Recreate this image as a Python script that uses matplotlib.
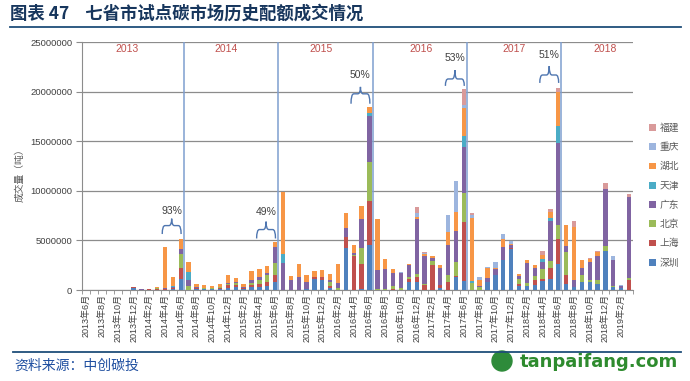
import matplotlib
matplotlib.use("Agg")
import matplotlib.pyplot as plt
import numpy as np
from matplotlib.path import Path
from matplotlib.patches import PathPatch, Circle
from matplotlib.lines import Line2D

plt.rcParams['font.family'] = ['Liberation Sans', 'Noto Sans CJK SC', 'DejaVu Sans']

# monthly volumes, unit: 10k tons, 2013-06 .. 2019-03
sz = [2, 2, 3, 5, 2, 3, 25, 3, 3, 5,
      3, 10, 107, 5, 10, 10, 10, 15, 25, 30,
      10, 30, 30, 40, 83, 0, 5, 5, 15, 110,
      100, 25, 5, 423, 5, 10, 450, 5, 5, 5,
      5, 80, 83, 5, 5, 20, 0, 133, 93, 0,
      0, 80, 150, 307, 410, 40, 40, 50, 90, 107,
      260, 60, 30, 83, 80, 60, 390, 30, 20, 0]
sh = [0, 0, 0, 0, 0, 1, 2, 1, 3, 10,
      10, 10, 117, 0, 10, 5, 5, 10, 30, 20,
      10, 20, 30, 43, 73, 0, 0, 0, 0, 20,
      33, 20, 0, 110, 335, 250, 450, 0, 0, 5,
      0, 30, 50, 50, 250, 30, 83, 5, 590, 0,
      0, 0, 0, 0, 10, 20, 0, 50, 20, 113,
      250, 90, 0, 0, 0, 0, 0, 0, 0, 100]
bj = [0, 0, 0, 0, 0, 1, 2, 1, 2, 2,
      2, 5, 137, 40, 2, 2, 2, 5, 5, 25,
      5, 20, 40, 73, 120, 0, 0, 0, 0, 5,
      0, 40, 15, 0, 15, 160, 394, 10, 10, 30,
      20, 20, 33, 5, 33, 0, 67, 143, 300, 73,
      30, 0, 0, 0, 0, 50, 30, 40, 100, 70,
      147, 233, 0, 67, 20, 40, 50, 10, 0, 23]
gd = [0, 0, 0, 0, 0, 0, 2, 2, 3, 5,
      2, 10, 50, 60, 10, 5, 3, 5, 15, 5,
      5, 30, 30, 20, 153, 277, 95, 128, 65, 0,
      0, 20, 50, 90, 20, 300, 460, 190, 200, 130,
      145, 120, 550, 285, 33, 170, 307, 313, 460, 0,
      10, 40, 57, 127, 30, 30, 200, 80, 70, 403,
      827, 57, 70, 77, 180, 240, 583, 260, 20, 820]
tj = [0, 0, 0, 0, 0, 0, 2, 0, 2, 2,
      0, 2, 0, 80, 0, 0, 0, 0, 0, 0,
      0, 0, 0, 0, 0, 90, 0, 0, 0, 0,
      0, 0, 0, 0, 0, 0, 33, 0, 0, 0,
      0, 0, 0, 0, 0, 0, 0, 0, 107, 20,
      0, 0, 0, 0, 0, 0, 0, 0, 30, 33,
      167, 0, 0, 0, 0, 0, 0, 0, 0, 0]
hb = [0, 0, 0, 0, 0, 0, 0, 0, 0, 2,
      420, 95, 100, 95, 25, 30, 20, 30, 78, 45,
      30, 90, 80, 63, 60, 623, 40, 133, 70, 60,
      67, 60, 190, 150, 80, 130, 60, 510, 95, 40,
      5, 10, 17, 20, 20, 30, 127, 193, 290, 633,
      60, 100, 20, 83, 10, 20, 30, 37, 40, 57,
      343, 220, 533, 80, 33, 40, 0, 0, 0, 0]
cq = [0, 0, 0, 0, 0, 0, 0, 0, 0, 0,
      0, 0, 0, 0, 0, 0, 0, 0, 0, 0,
      0, 0, 0, 0, 0, 0, 0, 0, 0, 0,
      0, 0, 0, 0, 0, 0, 0, 0, 0, 0,
      5, 0, 40, 10, 0, 0, 173, 310, 27, 30,
      30, 10, 60, 50, 33, 0, 0, 0, 0, 0,
      0, 0, 0, 0, 0, 0, 0, 43, 7, 0]
fj = [0, 0, 0, 0, 0, 0, 0, 0, 0, 0,
      0, 0, 0, 0, 0, 0, 0, 0, 0, 0,
      0, 0, 0, 0, 0, 0, 0, 0, 0, 0,
      0, 0, 0, 0, 0, 0, 0, 0, 0, 0,
      0, 0, 60, 10, 0, 0, 0, 0, 160, 23,
      0, 0, 0, 0, 0, 0, 0, 0, 40, 33,
      47, 0, 67, 0, 10, 13, 60, 0, 0, 30]

names = ['深圳', '上海', '北京', '广东', '天津', '湖北', '重庆', '福建']
colors = ['#4F81BD', '#C0504D', '#9BBB59', '#8064A2', '#4BACC6', '#F79646', '#9DB5DE', '#D99A9A']
series = [sz, sh, bj, gd, tj, hb, cq, fj]

months = [f"{2013 + (5 + i) // 12}年{(5 + i) % 12 + 1}月" for i in range(len(sz))]

years = ['2013', '2014', '2015', '2016', '2017', '2018']
year_x = [5.2, 17.8, 29.9, 42.5, 54.4, 66.0]
year_lines = [12.4, 24.4, 36.4, 48.4, 60.4]

# share labels above the june peaks
shares = ['93%', '49%', '50%', '53%', '51%']
share_idx = [12, 24, 36, 48, 60]
brace_y = [(5.65e6, 6.5e6, 7.2e6, 8.0e6),
           (5.2e6, 6.1e6, 6.9e6, 7.9e6),
           (18.8e6, 19.8e6, 20.5e6, 21.7e6),
           (20.6e6, 21.3e6, 22.2e6, 23.4e6),
           (20.9e6, 21.7e6, 22.6e6, 23.7e6)]

fig = plt.figure(figsize=(6.9, 3.81), dpi=100)
ax = fig.add_axes([82 / 690, 1 - 290 / 381, (633 - 82) / 690, (290 - 42.3) / 381])

x = np.arange(len(sz))
bottom = np.zeros(len(sz))
handles = []
for vals, name, c in zip(series, names, colors):
    v = np.array(vals) * 1e4
    b = ax.bar(x, v, 0.55, bottom=bottom, color=c, label=name, zorder=3)
    bottom += v
    handles.append(b)

ax.set_xlim(-0.55, 69.45)
ax.set_ylim(0, 25e6)
ax.set_yticks(np.arange(0, 25e6 + 1, 5e6))
ax.set_yticklabels([f"{int(t)}" for t in np.arange(0, 25e6 + 1, 5e6)], fontsize=6.8, color='#404040')
ax.yaxis.grid(True, color='#8C8C8C', lw=0.9, zorder=0)
ax.set_xticks(x[::2])
ax.set_xticklabels(months[::2], rotation=90, fontsize=6.5, color='#404040')
ax.set_xticks(np.arange(-0.5, 70, 1), minor=True)
ax.tick_params(axis='x', which='major', length=0, pad=3)
ax.tick_params(axis='x', which='minor', length=3, color='#8C8C8C')
ax.tick_params(axis='y', length=4, color='#8C8C8C', pad=3)
for s in ['top', 'right']:
    ax.spines[s].set_visible(False)
for s in ['left', 'bottom']:
    ax.spines[s].set_color('#8C8C8C')

for xl in year_lines:
    ax.axvline(xl, color='#7F9FCF', lw=1.1, zorder=4)
for yr, xx in zip(years, year_x):
    ax.text(xx, 24.3e6, yr, color='#C0504D', fontsize=7.5, ha='center', va='center')


def brace(ax, x0, x1, y0, y1, y2, r=0.35):
    xm = (x0 + x1) / 2
    verts = [(x0, y0), (x0, y1), (x0 + r, y1), (xm - r, y1), (xm, y1), (xm, y2),
             (xm, y2), (xm, y1), (xm + r, y1), (x1 - r, y1), (x1, y1), (x1, y0)]
    codes = [Path.MOVETO, Path.CURVE3, Path.CURVE3, Path.LINETO, Path.CURVE3, Path.CURVE3,
             Path.MOVETO, Path.CURVE3, Path.CURVE3, Path.LINETO, Path.CURVE3, Path.CURVE3]
    ax.add_patch(PathPatch(Path(verts, codes), fill=False, ec='#4F76B0', lw=1.0, zorder=5))


for lab, i, (y0, y1, y2, yt) in zip(shares, share_idx, brace_y):
    x0, x1 = i - 2.35, i + 0.05
    brace(ax, x0, x1, y0, y1, y2)
    ax.text((x0 + x1) / 2, yt, lab, fontsize=7.5, color='#404040', ha='center', va='center')

fig.legend(handles[::-1], names[::-1], loc='upper left', bbox_to_anchor=(645 / 690, 1 - 119 / 381),
           frameon=False, fontsize=7, labelcolor='#595959', handlelength=0.7, handleheight=0.7,
           handletextpad=0.4, labelspacing=0.95, borderaxespad=0)

fig.text(20 / 690, 1 - 173 / 381, '成交量（吨）', rotation=90, fontsize=7, color='#595959',
         ha='center', va='center')

# header / footer
fig.text(10 / 690, 1 - 14 / 381, '图表 47    七省市试点碳市场历史配额成交情况', fontsize=12.5,
         fontweight='bold', color='#17365D', va='center', family=['Noto Sans CJK SC'])
fig.add_artist(Line2D([10 / 690, 681 / 690], [1 - 26.5 / 381] * 2, color='#1F4E79', lw=1.3))
fig.add_artist(Line2D([13 / 690, 681 / 690], [1 - 352 / 381] * 2, color='#1F4E79', lw=1.3))
fig.text(14 / 690, 1 - 366 / 381, '资料来源：中创碳投', fontsize=10, color='#1F4FA0',
         va='center', family=['Noto Sans CJK SC'])
fig.add_artist(Circle((5.02, 0.20), 0.1, transform=fig.dpi_scale_trans, color='#2E8B3A'))
fig.text(520 / 690, 1 - 362 / 381, 'tanpaifang.com', fontsize=13, fontweight='bold',
         color='#2E8B2E', va='center', family=['DejaVu Sans'])

fig.savefig('out.png', dpi=100)
